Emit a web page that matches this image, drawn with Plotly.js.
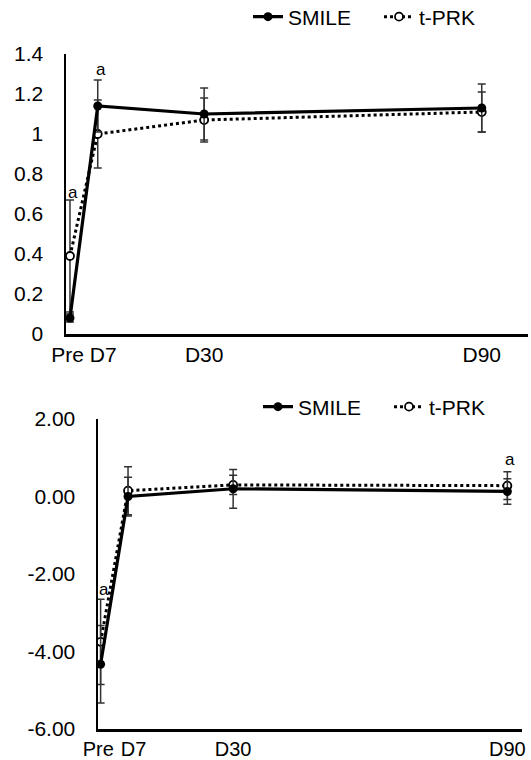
<!DOCTYPE html>
<html>
<head>
<meta charset="utf-8">
<script src="https://cdn.plot.ly/plotly-3.0.1.min.js"></script>
<style>html,body{margin:0;padding:0;background:#fff;}#chart{width:531px;height:760px;}</style>
</head>
<body>
<div id="chart"></div>
<script>
// Shared x categories (days)
const days = [1, 7, 30, 90];
const dayLabels = ['Pre', 'D7', 'D30', 'D90'];

// Top panel
const topSmile = [0.08, 1.14, 1.10, 1.13];
const topSmileErr = [0.02, 0.13, 0.13, 0.12];
const topPrk = [0.39, 1.00, 1.07, 1.11];
const topPrkErr = [0.28, 0.17, 0.11, 0.10];
const topYTicks = [0, 0.2, 0.4, 0.6, 0.8, 1, 1.2, 1.4];
const topYLabels = ['0', '0.2', '0.4', '0.6', '0.8', '1', '1.2', '1.4'];

// Bottom panel
const botSmile = [-4.33, 0.00, 0.20, 0.13];
const botSmileErr = [1.00, 0.50, 0.50, 0.33];
const botPrk = [-3.75, 0.15, 0.30, 0.28];
const botPrkErr = [1.10, 0.62, 0.25, 0.36];
const botYTicks = [-6, -4, -2, 0, 2];
const botYLabels = ['-6.00', '-4.00', '-2.00', '0.00', '2.00'];

// significance marks
const topMarkX = [1, 7];
const topMarkY = [0.71, 1.325];
const botMarkX = [1, 90];
const botMarkY = [-2.4, 0.95];

const FONT = 'Liberation Sans, Arial, sans-serif';
// Pre and D7 sit close together: their (tick-less) labels are spread slightly apart
const labelNudge = [-0.5, 1.2, 0, 0];
const tickPos = days.map((d, i) => d + labelNudge[i]);

const errStyle = {type: 'data', visible: true, color: '#333', thickness: 1.5, width: 4};

function smileTrace(y, err, xa, ya, lg) {
  return {x: days, y: y, type: 'scatter', mode: 'lines+markers', name: 'SMILE',
    xaxis: xa, yaxis: ya, legend: lg,
    line: {color: '#000', width: 3.2},
    marker: {color: '#000', size: 9, symbol: 'circle'},
    error_y: Object.assign({array: err}, errStyle)};
}
function prkTrace(y, err, xa, ya, lg) {
  return {x: days, y: y, type: 'scatter', mode: 'lines+markers', name: 't-PRK',
    xaxis: xa, yaxis: ya, legend: lg,
    line: {color: '#000', width: 3, dash: 'dot'},
    marker: {color: '#fff', size: 8, symbol: 'circle', line: {color: '#000', width: 1.8}},
    error_y: Object.assign({array: err}, errStyle)};
}

const data = [
  prkTrace(topPrk, topPrkErr, 'x', 'y', 'legend'),
  smileTrace(topSmile, topSmileErr, 'x', 'y', 'legend'),
  prkTrace(botPrk, botPrkErr, 'x2', 'y2', 'legend2'),
  smileTrace(botSmile, botSmileErr, 'x2', 'y2', 'legend2')
];

const xBase = {tickmode: 'array', tickvals: tickPos, ticktext: dayLabels, showgrid: false, zeroline: false,
  showline: true, linecolor: '#000', linewidth: 2.5, ticks: '', ticklabelstandoff: 0, tickangle: 0,
  tickfont: {family: FONT, size: 21, color: '#000'}, fixedrange: true};
const yBase = {showgrid: false, zeroline: false, showline: true, linecolor: '#000', linewidth: 2.5,
  ticks: '', ticklabelstandoff: 16, tickmode: 'array', tickfont: {family: FONT, size: 21, color: '#000'}};

const annotations = [];
topMarkX.forEach((x, i) => annotations.push({x: x, y: topMarkY[i], xref: 'x', yref: 'y', text: 'a',
  showarrow: false, xshift: 3, font: {family: FONT, size: 17, color: '#000'}}));
botMarkX.forEach((x, i) => annotations.push({x: x, y: botMarkY[i], xref: 'x2', yref: 'y2', text: 'a',
  showarrow: false, xshift: 3, font: {family: FONT, size: 17, color: '#000'}}));

const legBase = {orientation: 'h', xanchor: 'left', yanchor: 'middle', bgcolor: 'rgba(0,0,0,0)',
  font: {family: FONT, size: 21, color: '#000'}, traceorder: 'reversed', itemwidth: 30, entrywidth: 86};

const layout = {
  width: 531, height: 760,
  margin: {l: 0, r: 0, t: 0, b: 0, autoexpand: false},
  paper_bgcolor: '#fff', plot_bgcolor: '#fff',
  showlegend: true,
  xaxis: Object.assign({}, xBase, {domain: [66/531, 528/531], range: [0.14, 100], anchor: 'y'}),
  yaxis: Object.assign({}, yBase, {domain: [426/760, 706/760], range: [0, 1.4], tickvals: topYTicks, ticktext: topYLabels, anchor: 'x'}),
  xaxis2: Object.assign({}, xBase, {domain: [98/531, 522/531], range: [0.43, 93.2], anchor: 'y2',
    tickfont: {family: FONT, size: 20, color: '#000'}}),
  yaxis2: Object.assign({}, yBase, {domain: [31/760, 341/760], range: [-6, 2], tickvals: botYTicks, ticktext: botYLabels, anchor: 'x2'}),
  legend: Object.assign({}, legBase, {x: 248/531, y: 743/760}),
  legend2: Object.assign({}, legBase, {x: 258/531, y: 353/760}),
  annotations: annotations
};

Plotly.newPlot('chart', data, layout, {displayModeBar: false, staticPlot: true});
</script>
</body>
</html>
